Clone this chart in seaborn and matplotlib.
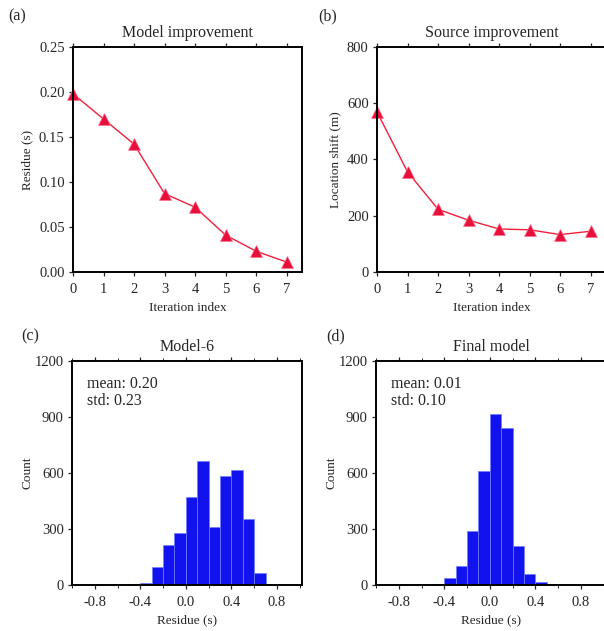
import numpy as np
import matplotlib
matplotlib.use("Agg")
import matplotlib.pyplot as plt
import seaborn as sns
from matplotlib.ticker import MultipleLocator, FormatStrFormatter

# Style: plain ticks, serif font like the GMT original
sns.set_style("ticks")
plt.rcParams["font.family"] = ["Liberation Serif", "DejaVu Serif"]
plt.rcParams["axes.unicode_minus"] = True

# Data
iterations = [0, 1, 2, 3, 4, 5, 6, 7]
residue = [0.198, 0.170, 0.142, 0.087, 0.072, 0.041, 0.023, 0.011]
location_shift = [569, 356, 223, 184, 153, 150, 133, 145]

model6_edges = [-0.5, -0.4, -0.3, -0.2, -0.1, 0.0, 0.1, 0.2, 0.3, 0.4, 0.5, 0.6, 0.7]
model6_counts = [3, 10, 95, 215, 277, 470, 666, 313, 586, 616, 354, 63]

final_edges = [-0.6, -0.5, -0.4, -0.3, -0.2, -0.1, 0.0, 0.1, 0.2, 0.3, 0.4, 0.5]
final_counts = [2, 5, 40, 104, 290, 611, 914, 843, 209, 59, 14]

model6_stats = "mean: 0.20\nstd: 0.23"
final_stats = "mean: 0.01\nstd: 0.10"

line_color = "#f0203c"
marker_color = "#e8103a"
bar_color = "#1212ee"

fig = plt.figure(figsize=(6.04, 6.31), dpi=100)
W, H = 604.0, 631.0


def make_axes(left, top, right, bottom):
    return fig.add_axes([left / W, 1 - bottom / H, (right - left) / W, (bottom - top) / H])


ax_a = make_axes(73, 47, 302, 272)
ax_b = make_axes(377, 47, 606, 272)
ax_c = make_axes(72, 361, 302, 585)
ax_d = make_axes(376, 361, 606, 585)


def style_axes(ax):
    for side in ["left", "bottom", "top", "right"]:
        ax.spines[side].set_linewidth(1.4)
        ax.spines[side].set_color("black")
    ax.tick_params(axis="both", direction="out", length=3, width=0.9,
                   labelsize=10.5, top=True, pad=3)
    ax.tick_params(axis="x", pad=5)
    ax.tick_params(axis="x", which="minor", direction="out", length=2, width=0.7, top=True)


# (a) Model improvement
sns.lineplot(x=iterations, y=residue, ax=ax_a, color=line_color, linewidth=1.0,
             marker="^", markersize=8, markerfacecolor=marker_color,
             markeredgecolor="#ff7090", markeredgewidth=0.5)
ax_a.set_xlim(0, 7.5)
ax_a.set_ylim(0, 0.25)
ax_a.xaxis.set_major_locator(MultipleLocator(1))
ax_a.yaxis.set_major_locator(MultipleLocator(0.05))
ax_a.yaxis.set_major_formatter(FormatStrFormatter("%.2f"))
ax_a.set_xlabel("Iteration index", fontsize=9.5, labelpad=4)
ax_a.set_ylabel("Residue (s)", fontsize=9.5)
ax_a.set_title("Model improvement", fontsize=11.5, pad=7)
style_axes(ax_a)
for ln in ax_a.lines:
    ln.set_clip_on(False)

# (b) Source improvement
sns.lineplot(x=iterations, y=location_shift, ax=ax_b, color=line_color, linewidth=1.0,
             marker="^", markersize=8, markerfacecolor=marker_color,
             markeredgecolor="#ff7090", markeredgewidth=0.5)
ax_b.set_xlim(0, 7.5)
ax_b.set_ylim(0, 800)
ax_b.xaxis.set_major_locator(MultipleLocator(1))
ax_b.yaxis.set_major_locator(MultipleLocator(200))
ax_b.set_xlabel("Iteration index", fontsize=9.5, labelpad=4)
ax_b.set_ylabel("Location shift (m)", fontsize=9.5)
ax_b.set_title("Source improvement", fontsize=11.5, pad=7)
style_axes(ax_b)
for ln in ax_b.lines:
    ln.set_clip_on(False)


# (c) and (d) residue histograms
def draw_hist(ax, edges, counts, title, stats):
    centers = [(edges[i] + edges[i + 1]) / 2 for i in range(len(counts))]
    sns.histplot(x=centers, weights=counts, bins=edges, ax=ax, color=bar_color,
                 alpha=1.0, edgecolor="#6f7cff", linewidth=0.5)
    ax.set_xlim(-1.0, 1.02)
    ax.set_ylim(0, 1200)
    ax.xaxis.set_major_locator(MultipleLocator(0.4))
    ax.xaxis.set_minor_locator(MultipleLocator(0.2))
    ax.xaxis.set_major_formatter(FormatStrFormatter("%.1f"))
    ax.yaxis.set_major_locator(MultipleLocator(300))
    ax.set_xlabel("Residue (s)", fontsize=9.5, labelpad=4)
    ax.set_ylabel("Count", fontsize=9.5, labelpad=1)
    ax.set_title(title, fontsize=11.5, pad=7)
    ax.text(0.065, 0.935, stats, transform=ax.transAxes, fontsize=11.5,
            va="top", ha="left", linespacing=1.15)
    style_axes(ax)


draw_hist(ax_c, model6_edges, model6_counts, "Model-6", model6_stats)
draw_hist(ax_d, final_edges, final_counts, "Final model", final_stats)

# panel letters
fig.text(8 / W, 1 - 16 / H, "(a)", fontsize=11.5, va="center", ha="left")
fig.text(318 / W, 1 - 16 / H, "(b)", fontsize=11.5, va="center", ha="left")
fig.text(21 / W, 1 - 336 / H, "(c)", fontsize=11.5, va="center", ha="left")
fig.text(326 / W, 1 - 336 / H, "(d)", fontsize=11.5, va="center", ha="left")

fig.savefig("out.png", dpi=100)
